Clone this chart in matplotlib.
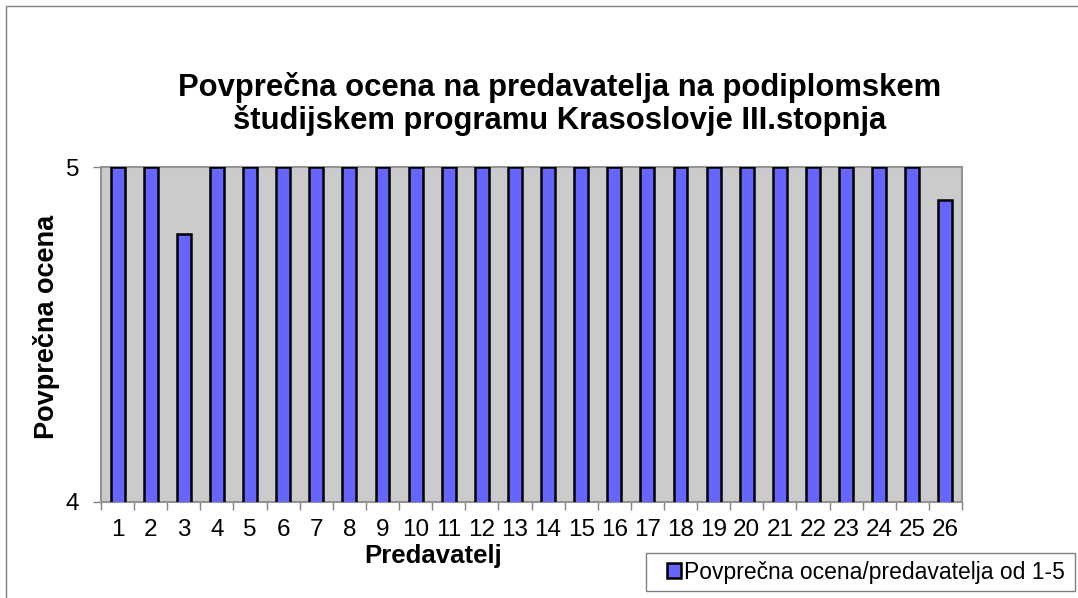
import matplotlib
matplotlib.use("Agg")
import matplotlib.pyplot as plt
from matplotlib.patches import Rectangle

plt.rcParams['font.family'] = ['Liberation Sans', 'DejaVu Sans']

categories = [str(i) for i in range(1, 27)]
values = [5, 5, 4.8, 5, 5, 5, 5, 5, 5, 5, 5, 5, 5, 5, 5, 5, 5, 5, 5, 5, 5, 5, 5, 5, 5, 4.9]
title = "Povprečna ocena na predavatelja na podiplomskem\nštudijskem programu Krasoslovje III.stopnja"
series_name = "Povprečna ocena/predavatelja od 1-5"

W, H = 1078, 598
fig = plt.figure(figsize=(W / 100, H / 100), dpi=100)
ax = fig.add_axes([101 / W, 1 - 502 / H, (962 - 101) / W, (502 - 167) / H])

# outer chart border
fig.patches.append(Rectangle((5.5 / W, -0.01), 1.02, 1 - 5.5 / H + 0.01, transform=fig.transFigure,
                             fill=False, edgecolor='#808080', linewidth=1))

x = list(range(len(categories)))
ax.set_facecolor('#CBCBCB')
bars = ax.bar(x, values, width=0.42, color='#6666FF', edgecolor='black', linewidth=1.8,
              label=series_name, zorder=3)

ax.set_xlim(-0.5, len(categories) - 0.5)
ax.set_ylim(4, 5)
ax.set_yticks([4, 5])
ax.set_yticklabels(['4', '5'], fontsize=17.5)
ax.set_xticks(x)
ax.set_xticklabels(categories, fontsize=17.5)
ax.tick_params(axis='x', length=0, pad=12)
ax.set_xticks([i - 0.5 for i in range(len(categories) + 1)], minor=True)
ax.tick_params(axis='x', which='minor', length=5.5, color='#808080', width=1)
ax.tick_params(axis='y', length=5.5, color='#808080', width=1, pad=10)

for s in ['top', 'right', 'left', 'bottom']:
    ax.spines[s].set_color('#939393')
    ax.spines[s].set_linewidth(1.5)

fig.text(560 / W, 1 - 104 / H, title, ha='center', va='center', fontsize=22.3,
         fontweight='bold', linespacing=1.1)
fig.text(47 / W, 1 - 327 / H, "Povprečna ocena", rotation=90, ha='center', va='center',
         fontsize=19.5, fontweight='bold')
fig.text(433 / W, 1 - 556 / H, "Predavatelj", ha='center', va='center',
         fontsize=18.5, fontweight='bold')

# legend frame drawn explicitly
fig.patches.append(Rectangle((646 / W, 1 - 591 / H), (1075 - 646) / W, (591 - 553) / H,
                             transform=fig.transFigure, fill=True, facecolor='white',
                             edgecolor='#808080', linewidth=1, zorder=5))
leg = fig.legend(handles=[bars], labels=[series_name], loc='center left',
                 bbox_to_anchor=(667 / W, 1 - 572 / H), fontsize=16.5, frameon=False,
                 handlelength=0.6, handleheight=0.6, handletextpad=0.15,
                 borderpad=0, borderaxespad=0)
leg.set_zorder(6)

fig.savefig("out.png", dpi=100)
